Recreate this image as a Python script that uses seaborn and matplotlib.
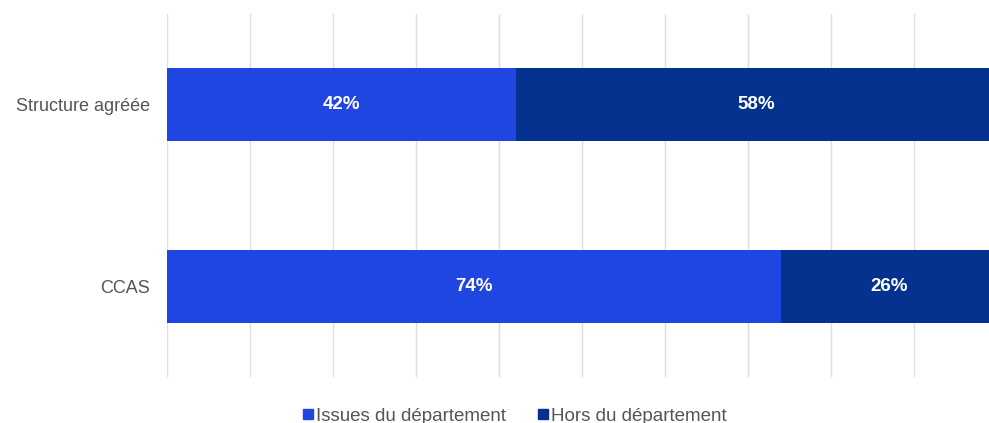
import matplotlib
matplotlib.use("Agg")
import matplotlib.pyplot as plt
from matplotlib.lines import Line2D
import seaborn as sns
import pandas as pd

categories = ["Structure agréée", "CCAS"]
issues_du_departement = [42, 74]
hors_du_departement = [58, 26]
series_names = ["Issues du département", "Hors du département"]

color_issues = "#1f46e1"
color_hors = "#04328e"
text_grey = "#555555"

sns.set_theme(style="white")
plt.rcParams["font.family"] = ["Liberation Sans", "DejaVu Sans"]

df = pd.DataFrame({
    "categorie": categories,
    "issues": issues_du_departement,
    "hors": hors_du_departement,
})
df["total"] = df["issues"] + df["hors"]

fig = plt.figure(figsize=(9.89, 4.23), dpi=100)
ax = fig.add_axes([167 / 989, 1 - 377 / 423, 830 / 989, 363 / 423])

# stacked bars: full total in the dark shade, first segment on top of it
sns.barplot(data=df, x="total", y="categorie", orient="h", color=color_hors,
            width=0.4, ax=ax, saturation=1, linewidth=0, zorder=2)
sns.barplot(data=df, x="issues", y="categorie", orient="h", color=color_issues,
            width=0.4, ax=ax, saturation=1, linewidth=0, zorder=3)

ax.set_xlim(0, 100)
ax.set_ylim(1.5, -0.5)
ax.set_xticks(range(0, 101, 10))
ax.xaxis.grid(True, color="#dddddd", linewidth=1)
ax.set_axisbelow(True)
ax.tick_params(axis="x", length=0, labelbottom=False)
ax.tick_params(axis="y", length=0, pad=12, labelsize=13, labelcolor=text_grey)
ax.set_xlabel("")
ax.set_ylabel("")
for s in ax.spines.values():
    s.set_visible(False)

for i, row in df.iterrows():
    ax.text(row["issues"] / 2, i, f"{row['issues']}%", ha="center", va="center",
            color="white", fontsize=13.5, fontweight="bold", zorder=5)
    ax.text(row["issues"] + row["hors"] / 2, i, f"{row['hors']}%", ha="center",
            va="center", color="white", fontsize=13.5, fontweight="bold", zorder=5)

handles = [
    Line2D([], [], marker="s", linestyle="", markersize=7, color=color_issues),
    Line2D([], [], marker="s", linestyle="", markersize=7, color=color_hors),
]
fig.legend(handles, series_names, loc="center", bbox_to_anchor=(514 / 989, 1 - 416 / 423),
           ncol=2, frameon=False, fontsize=13.5, labelcolor=text_grey,
           handletextpad=0.1, columnspacing=1.6, handlelength=0.7,
           borderpad=0, borderaxespad=0)

fig.savefig("out.png", dpi=100)
